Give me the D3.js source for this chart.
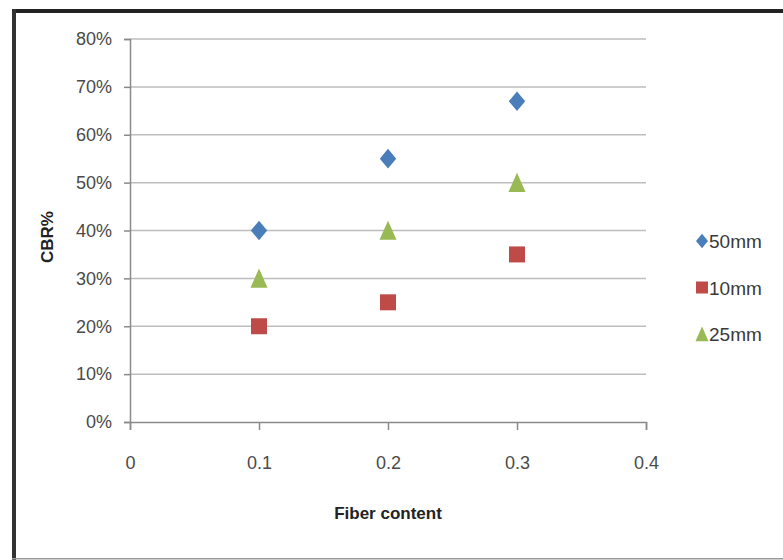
<!DOCTYPE html>
<html>
<head>
<meta charset="utf-8">
<script src="https://cdn.jsdelivr.net/npm/d3@7"></script>
<style>
  body { margin: 0; background: #fff; }
  text { font-family: "Liberation Sans", Arial, sans-serif; }
</style>
</head>
<body>
<div id="chart"></div>
<script>
//***************** data *******************/
var fiber = [0.1, 0.2, 0.3];
var seriesNames = ["50mm", "10mm", "25mm"];
var cbr50 = [40, 55, 67];
var cbr10 = [20, 25, 35];
var cbr25 = [30, 40, 50];
var xTicks = [0, 0.1, 0.2, 0.3, 0.4];
var yTicks = [0, 10, 20, 30, 40, 50, 60, 70, 80];

// marker paths, drawn around (0,0) and scaled by r
function diamond(r) { return "M0," + (-r * 1.2) + "L" + r + ",0L0," + (r * 1.2) + "L" + (-r) + ",0Z"; }
function square(r) { return "M" + (-r) + "," + (-r) + "h" + (2 * r) + "v" + (2 * r) + "h" + (-2 * r) + "Z"; }
function triangle(r) { return "M0," + (-r * 1.15) + "L" + r + "," + (r * 1.1) + "L" + (-r) + "," + (r * 1.1) + "Z"; }

var series = [
  {name: seriesNames[0], values: cbr50, color: "#4a7ebb", shape: diamond, r: 8.2, lr: 6},
  {name: seriesNames[1], values: cbr10, color: "#be4b48", shape: square, r: 8, lr: 6},
  {name: seriesNames[2], values: cbr25, color: "#98b954", shape: triangle, r: 8.5, lr: 6.5}
];

//************* set dimensions ***************/
var W = 783, H = 560;
var plot = {left: 130, right: 646, top: 39, bottom: 422};

var svg = d3.select("#chart")
  .append("svg")
    .attr("width", W)
    .attr("height", H);

// outer frame
svg.append("rect").attr("x", 12).attr("y", 9).attr("width", W).attr("height", 4).attr("fill", "#222");
svg.append("rect").attr("x", 12).attr("y", 9).attr("width", 4).attr("height", H).attr("fill", "#333");
svg.append("rect").attr("x", 12).attr("y", H - 2).attr("width", W).attr("height", 1.5).attr("fill", "#999");

//***************** scales *******************/
var x = d3.scaleLinear().domain([0, 0.4]).range([plot.left, plot.right]);
var y = d3.scaleLinear().domain([0, 80]).range([plot.bottom, plot.top]);

// gridlines
svg.append("g")
  .selectAll("line")
  .data(yTicks.filter(function(d) { return d > 0; }))
  .enter().append("line")
    .attr("x1", plot.left).attr("x2", plot.right)
    .attr("y1", function(d) { return y(d); })
    .attr("y2", function(d) { return y(d); })
    .attr("stroke", "#bdbdbd")
    .attr("stroke-width", 1.5);

// y axis
var yAxis = d3.axisLeft(y)
  .tickValues(yTicks)
  .tickSize(6)
  .tickPadding(12)
  .tickFormat(function(d) { return d + "%"; });
var gy = svg.append("g")
  .attr("transform", "translate(" + plot.left + ",0)")
  .call(yAxis);

// x axis
var xAxis = d3.axisBottom(x)
  .tickValues(xTicks)
  .tickSize(8)
  .tickPadding(26)
  .tickFormat(function(d) { return d === 0 ? "0" : d3.format(".1f")(d); });
var gx = svg.append("g")
  .attr("transform", "translate(0," + plot.bottom + ")")
  .call(xAxis);

[gx, gy].forEach(function(g) {
  g.select(".domain").attr("stroke", "#8a8a8a").attr("stroke-width", 1.5);
  g.selectAll(".tick line").attr("stroke", "#8a8a8a").attr("stroke-width", 1.5);
  g.selectAll(".tick text")
    .attr("fill", "#4a4a4a")
    .style("font-size", "18px")
    .style("font-family", "'Liberation Sans', Arial, sans-serif");
});

// axis titles
svg.append("text")
  .attr("x", (plot.left + plot.right) / 2)
  .attr("y", 519)
  .attr("text-anchor", "middle")
  .style("font-size", "17px")
  .style("font-weight", "bold")
  .attr("fill", "#222")
  .text("Fiber content");

svg.append("text")
  .attr("transform", "translate(53,237) rotate(-90)")
  .attr("text-anchor", "middle")
  .style("font-size", "17px")
  .style("font-weight", "bold")
  .attr("fill", "#222")
  .text("CBR%");

//***************** points *******************/
series.forEach(function(s) {
  svg.append("g")
    .selectAll("path")
    .data(s.values)
    .enter().append("path")
      .attr("d", s.shape(s.r))
      .attr("transform", function(d, i) {
        return "translate(" + x(fiber[i]) + "," + y(d) + ")";
      })
      .attr("fill", s.color);
});

//***************** legend *******************/
var legend = svg.append("g").attr("transform", "translate(702,241)");
series.forEach(function(s, i) {
  var row = legend.append("g").attr("transform", "translate(0," + (i * 46.5) + ")");
  row.append("path").attr("d", s.shape(s.lr)).attr("fill", s.color);
  row.append("text")
    .attr("x", 7)
    .attr("y", 7)
    .style("font-size", "19px")
    .attr("fill", "#3a3a3a")
    .text(s.name);
});
</script>
</body>
</html>
